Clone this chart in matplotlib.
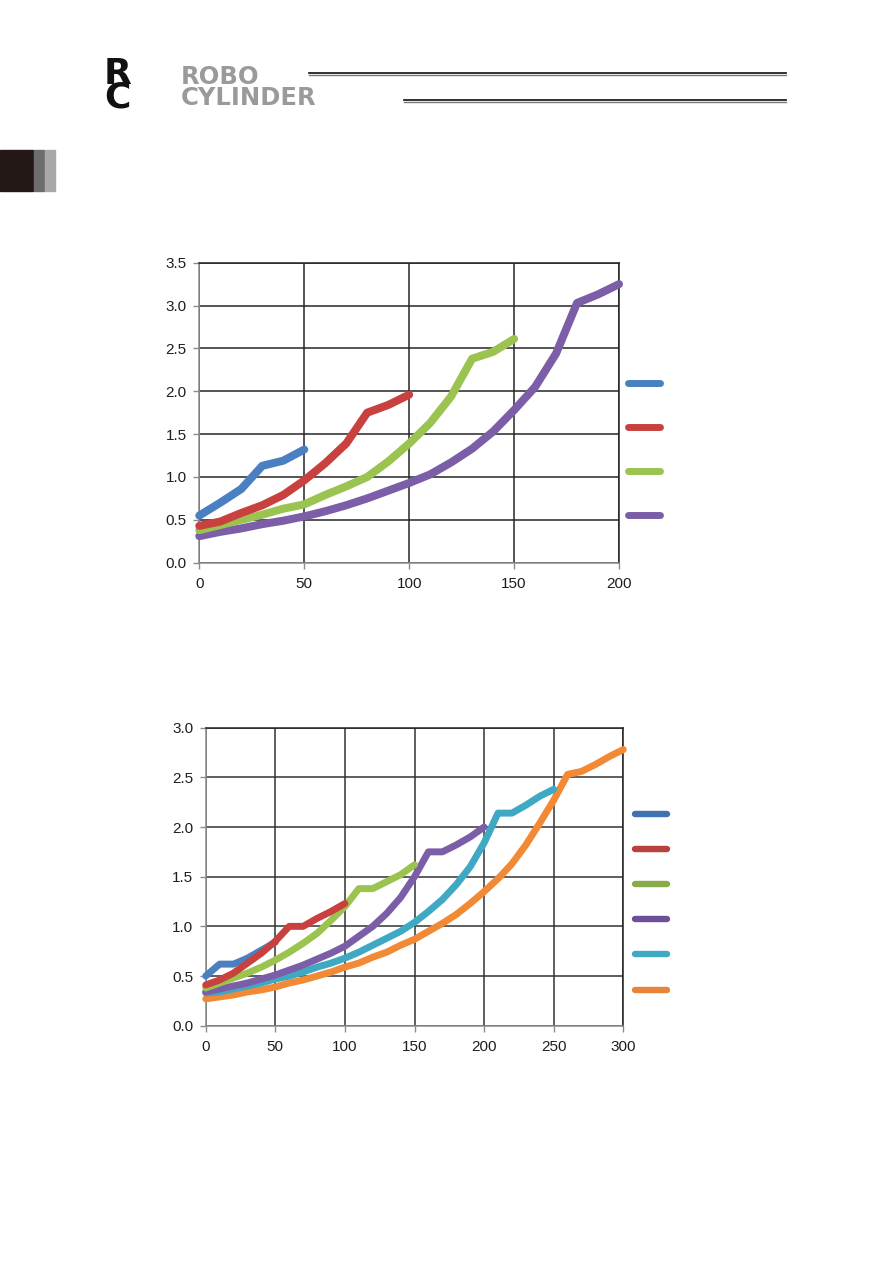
import matplotlib
matplotlib.use("Agg")
import matplotlib.pyplot as plt
from matplotlib.lines import Line2D
from matplotlib.patches import Rectangle

W, H = 893, 1263

# ---------------- data: chart 1 ----------------
c1_x_blue = [0, 10, 20, 30, 40, 50]
c1_y_blue = [0.55, 0.70, 0.86, 1.13, 1.19, 1.32]
c1_x_red = [0, 10, 20, 30, 40, 50, 60, 70, 80, 90, 100]
c1_y_red = [0.43, 0.48, 0.58, 0.67, 0.79, 0.96, 1.16, 1.39, 1.75, 1.84, 1.96]
c1_x_green = list(range(0, 151, 10))
c1_y_green = [0.38, 0.44, 0.50, 0.56, 0.63, 0.68, 0.79, 0.89, 1.00, 1.18, 1.39,
              1.63, 1.94, 2.38, 2.46, 2.61]
c1_x_purple = list(range(0, 201, 10))
c1_y_purple = [0.31, 0.36, 0.40, 0.45, 0.49, 0.54, 0.60, 0.67, 0.75, 0.84, 0.93,
               1.03, 1.17, 1.33, 1.53, 1.78, 2.05, 2.44, 3.03, 3.13, 3.25]
c1_xticks = [0, 50, 100, 150, 200]
c1_yticks = [0.0, 0.5, 1.0, 1.5, 2.0, 2.5, 3.0, 3.5]

# ---------------- data: chart 2 ----------------
c2_x_blue = [0, 10, 20, 30, 40, 50]
c2_y_blue = [0.50, 0.62, 0.62, 0.68, 0.76, 0.84]
c2_x_red = list(range(0, 101, 10))
c2_y_red = [0.41, 0.46, 0.53, 0.63, 0.73, 0.85, 1.00, 1.00, 1.08, 1.15, 1.23]
c2_x_green = list(range(0, 151, 10))
c2_y_green = [0.38, 0.43, 0.48, 0.53, 0.59, 0.66, 0.74, 0.83, 0.93, 1.06, 1.20,
              1.38, 1.38, 1.45, 1.52, 1.62]
c2_x_purple = list(range(0, 201, 10))
c2_y_purple = [0.34, 0.37, 0.40, 0.43, 0.47, 0.51, 0.56, 0.61, 0.67, 0.73, 0.80,
               0.90, 1.00, 1.13, 1.29, 1.50, 1.75, 1.75, 1.82, 1.90, 2.00]
c2_x_cyan = list(range(0, 251, 10))
c2_y_cyan = [0.33, 0.34, 0.37, 0.40, 0.43, 0.47, 0.50, 0.54, 0.59, 0.63, 0.68,
             0.74, 0.81, 0.88, 0.95, 1.04, 1.15, 1.27, 1.42, 1.60, 1.84, 2.14,
             2.14, 2.22, 2.31, 2.38]
c2_x_orange = list(range(0, 301, 10))
c2_y_orange = [0.27, 0.29, 0.31, 0.34, 0.36, 0.39, 0.43, 0.46, 0.50, 0.54, 0.59,
               0.63, 0.69, 0.74, 0.81, 0.87, 0.95, 1.03, 1.12, 1.23, 1.35, 1.48,
               1.63, 1.82, 2.04, 2.27, 2.53, 2.56, 2.63, 2.71, 2.78]
c2_xticks = [0, 50, 100, 150, 200, 250, 300]
c2_yticks = [0.0, 0.5, 1.0, 1.5, 2.0, 2.5, 3.0]

BLUE = "#4a7fc1"
RED = "#c9413e"
GREEN = "#9bc34f"
PURPLE = "#7b5ea7"
CYAN = "#3fa9c4"
ORANGE = "#f28a35"

plt.rcParams['font.family'] = ['Liberation Sans', 'DejaVu Sans']

fig = plt.figure(figsize=(W / 100, H / 100), dpi=100)


def fx(px):
    return px / W


def fy(py):
    return 1 - py / H


def make_axes(l, r, t, b):
    return fig.add_axes([fx(l), fy(b), fx(r) - fx(l), fy(t) - fy(b)])


def style(ax, xticks, yticks, xmax, ymax, gridc):
    ax.set_xlim(0, xmax)
    ax.set_ylim(0, ymax)
    ax.set_xticks(xticks)
    ax.set_yticks(yticks)
    ax.set_xticklabels([str(v) for v in xticks])
    ax.set_yticklabels([f"{v:.1f}" for v in yticks])
    ax.grid(True, color=gridc, linewidth=1.1)
    ax.set_axisbelow(True)
    for k, s in ax.spines.items():
        s.set_linewidth(1.1)
        s.set_color("#8c8c8c" if k in ("left", "bottom") else "#222222")
    ax.tick_params(axis='both', length=4, width=1, color="#8c8c8c",
                   labelsize=11, labelcolor="#1e1e1e")
    ax.tick_params(axis='x', pad=6)
    ax.tick_params(axis='y', pad=5)


# ---------- chart 1 ----------
ax1 = make_axes(199.3, 619.0, 262.7, 562.7)
style(ax1, c1_xticks, c1_yticks, 200, 3.5, "#262626")
lw1 = 5.8
for xs, ys, c in [(c1_x_purple, c1_y_purple, PURPLE), (c1_x_green, c1_y_green, GREEN),
                  (c1_x_red, c1_y_red, RED), (c1_x_blue, c1_y_blue, BLUE)]:
    ax1.plot(xs, ys, color=c, lw=lw1, solid_capstyle='round', solid_joinstyle='round',
             clip_on=False, zorder=3)

for py, c in zip([383.3, 427.3, 471.3, 515.3], [BLUE, RED, GREEN, PURPLE]):
    fig.add_artist(Line2D([fx(628), fx(660)], [fy(py), fy(py)], color=c, lw=5.0,
                          solid_capstyle='round'))

# ---------- chart 2 ----------
ax2 = make_axes(205.7, 623.3, 727.7, 1025.7)
style(ax2, c2_xticks, c2_yticks, 300, 3.0, "#333333")
lw2 = 5.0
for xs, ys, c in [(c2_x_orange, c2_y_orange, ORANGE), (c2_x_cyan, c2_y_cyan, CYAN),
                  (c2_x_purple, c2_y_purple, PURPLE), (c2_x_green, c2_y_green, GREEN),
                  (c2_x_blue, c2_y_blue, BLUE), (c2_x_red, c2_y_red, RED)]:
    ax2.plot(xs, ys, color=c, lw=lw2, solid_capstyle='round', solid_joinstyle='round',
             clip_on=False, zorder=3)

for py, c in zip([814, 849, 884.3, 919.3, 954.3, 990],
                 ["#3f72b0", "#b8403d", "#8aab4a", "#6e4f9a", CYAN, "#e8843a"]):
    fig.add_artist(Line2D([fx(635), fx(667)], [fy(py), fy(py)], color=c, lw=4.6,
                          solid_capstyle='round'))

# ---------- header ----------
fig.text(fx(104), fy(108), "R\nC", fontsize=26, fontweight='heavy', color="#111111",
         family=['DejaVu Sans'], va='baseline', ha='left', linespacing=0.64)
fig.text(fx(181), fy(105), "ROBO\nCYLINDER", fontsize=17.5, fontweight='bold',
         color="#9a9a9a", family=['DejaVu Sans'], va='baseline', ha='left',
         linespacing=0.86)
for x0, y0 in [(309, 72.5), (404, 99.5)]:
    fig.add_artist(Line2D([fx(x0), fx(786)], [fy(y0), fy(y0)], color="#222222", lw=1.3))
    fig.add_artist(Line2D([fx(x0), fx(786)], [fy(y0 + 2.6), fy(y0 + 2.6)], color="#777777", lw=1.0))

# ---------- side tab ----------
fig.add_artist(Rectangle((fx(0), fy(191)), fx(33), fy(150) - fy(191), color="#231816",
                         transform=fig.transFigure))
fig.add_artist(Rectangle((fx(34), fy(191)), fx(10), fy(150) - fy(191), color="#6d6d6d",
                         transform=fig.transFigure))
fig.add_artist(Rectangle((fx(45), fy(191)), fx(10), fy(150) - fy(191), color="#a8a8a8",
                         transform=fig.transFigure))

fig.savefig("out.png", dpi=100)
